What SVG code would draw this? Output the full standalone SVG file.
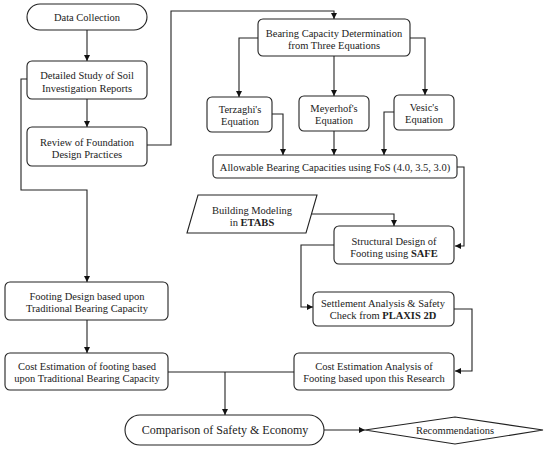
<svg xmlns="http://www.w3.org/2000/svg" width="550" height="451" viewBox="0 0 550 451">
<style>
.box{fill:#fff;stroke:#222;stroke-width:1.1}
.t{font-family:"Liberation Serif","Times New Roman",serif;font-size:10.5px;fill:#222;text-anchor:middle}
.big{font-size:12px}
.b{font-weight:bold}
.c{fill:none;stroke:#222;stroke-width:1.1}
</style>
<defs>
<marker id="ah" markerWidth="8" markerHeight="8" refX="6" refY="3" orient="auto" markerUnits="userSpaceOnUse">
<path d="M0,0 L6,3 L0,6 Z" fill="#111"/>
</marker>
</defs>
<rect width="550" height="451" fill="#fff"/>
<g id="connectors">
<path class="c" d="M87,30 V61" marker-end="url(#ah)"/>
<path class="c" d="M87,99 V127" marker-end="url(#ah)"/>
<path class="c" d="M27,79 H21 V190 H87 V282" marker-end="url(#ah)"/>
<path class="c" d="M147,145 H171 V11 H334 V19" marker-end="url(#ah)"/>
<path class="c" d="M258,38 H239 V97" marker-end="url(#ah)"/>
<path class="c" d="M334,56 V96" marker-end="url(#ah)"/>
<path class="c" d="M410,38 H425 V95" marker-end="url(#ah)"/>
<path class="c" d="M272,114 H283 V155" marker-end="url(#ah)"/>
<path class="c" d="M334,131 V155" marker-end="url(#ah)"/>
<path class="c" d="M394,112 H384 V155" marker-end="url(#ah)"/>
<path class="c" d="M457,167 H464 V246 H455" marker-end="url(#ah)"/>
<path class="c" d="M312,214 H394 V226" marker-end="url(#ah)"/>
<path class="c" d="M334,245 H301 V307 H313" marker-end="url(#ah)"/>
<path class="c" d="M454,309 H472 V371 H455" marker-end="url(#ah)"/>
<path class="c" d="M87,320 V353" marker-end="url(#ah)"/>
<path class="c" d="M168,372 H294"/>
<path class="c" d="M225,372 V415" marker-end="url(#ah)"/>
<path class="c" d="M324,430 H365" marker-end="url(#ah)"/>
</g>
<g id="data-collection">
<rect class="box" x="27" y="4" width="120" height="26" rx="13"/>
<text class="t" x="87" y="21">Data Collection</text>
</g>
<g id="detailed-study">
<rect class="box" x="27" y="61" width="120" height="38" rx="5"/>
<text class="t" x="87" y="79">Detailed Study of Soil</text>
<text class="t" x="87" y="92">Investigation Reports</text>
</g>
<g id="review">
<rect class="box" x="27" y="127" width="120" height="39" rx="5"/>
<text class="t" x="87" y="145.5">Review of Foundation</text>
<text class="t" x="87" y="158">Design Practices</text>
</g>
<g id="bearing-capacity">
<rect class="box" x="258" y="19" width="152" height="37" rx="5"/>
<text class="t" x="334" y="36.5">Bearing Capacity Determination</text>
<text class="t" x="334" y="48.5">from Three Equations</text>
</g>
<g id="terzaghi">
<rect class="box" x="207" y="97" width="65" height="35" rx="5"/>
<text class="t" x="240" y="112.5">Terzaghi's</text>
<text class="t" x="240" y="124.5">Equation</text>
</g>
<g id="meyerhof">
<rect class="box" x="299" y="96" width="70" height="35" rx="5"/>
<text class="t" x="334" y="111.5">Meyerhof's</text>
<text class="t" x="334" y="123.5">Equation</text>
</g>
<g id="vesic">
<rect class="box" x="394" y="95" width="60" height="35" rx="5"/>
<text class="t" x="424" y="110.5">Vesic's</text>
<text class="t" x="424" y="122.5">Equation</text>
</g>
<g id="allowable">
<rect class="box" x="213" y="155" width="244" height="23" rx="4"/>
<text class="t" x="335" y="170.5">Allowable Bearing Capacities using FoS (4.0, 3.5, 3.0)</text>
</g>
<g id="building-modeling">
<polygon class="box" points="198,195 317,195 306,233 187,233"/>
<text class="t" x="252" y="213.5">Building Modeling</text>
<text class="t" x="252" y="225.5">in <tspan class="b">ETABS</tspan></text>
</g>
<g id="structural-design">
<rect class="box" x="334" y="226" width="120" height="38" rx="5"/>
<text class="t" x="394" y="244.5">Structural Design of</text>
<text class="t" x="394" y="256.5">Footing using <tspan class="b">SAFE</tspan></text>
</g>
<g id="settlement">
<rect class="box" x="313" y="292" width="141" height="34" rx="5"/>
<text class="t" x="383" y="306.5">Settlement Analysis &amp; Safety</text>
<text class="t" x="383" y="319">Check from <tspan class="b">PLAXIS 2D</tspan></text>
</g>
<g id="cost-analysis">
<rect class="box" x="294" y="353" width="160" height="37" rx="5"/>
<text class="t" x="374" y="369.5">Cost Estimation Analysis of</text>
<text class="t" x="374" y="381.5">Footing based upon this Research</text>
</g>
<g id="footing-design">
<rect class="box" x="5" y="282" width="163" height="38" rx="5"/>
<text class="t" x="87" y="299.5">Footing Design based upon</text>
<text class="t" x="87" y="311.5">Traditional Bearing Capacity</text>
</g>
<g id="cost-traditional">
<rect class="box" x="5" y="353" width="163" height="37" rx="5"/>
<text class="t" x="87" y="369.5">Cost Estimation of footing based</text>
<text class="t" x="87" y="382">upon Traditional Bearing Capacity</text>
</g>
<g id="comparison">
<rect class="box" x="125" y="415" width="199" height="30" rx="15"/>
<text class="t big" x="225" y="434">Comparison of Safety &amp; Economy</text>
</g>
<g id="recommendations">
<polygon class="box" points="365,430 455,417 543,430 455,444"/>
<text class="t" x="455" y="434">Recommendations</text>
</g>
</svg>
